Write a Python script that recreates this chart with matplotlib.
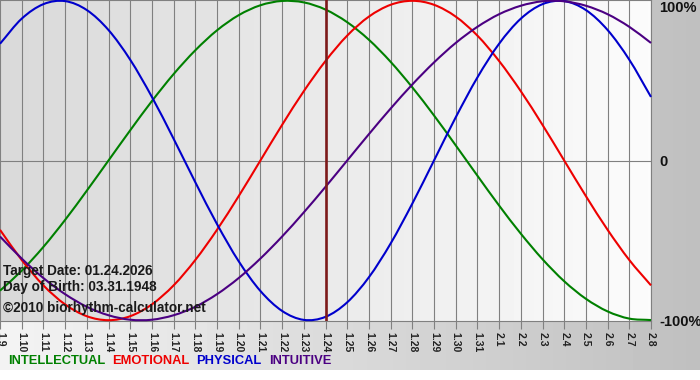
#!/usr/bin/env python3
"""Biorhythm chart, 01.24.2026 for a birth date of 03.31.1948."""
import numpy as np
import matplotlib

matplotlib.use("Agg")
import matplotlib.pyplot as plt
from matplotlib.path import Path
from matplotlib.patches import PathPatch

W, H = 700, 380

dates = ["1.9", "1.10", "1.11", "1.12", "1.13", "1.14", "1.15", "1.16", "1.17",
         "1.18", "1.19", "1.20", "1.21", "1.22", "1.23", "1.24", "1.25", "1.26",
         "1.27", "1.28", "1.29", "1.30", "1.31", "2.1", "2.2", "2.3", "2.4",
         "2.5", "2.6", "2.7", "2.8"]
target_idx = 15

# percent / 100, one value per day
physical = [0.731, 0.888, 0.979, 0.998, 0.942, 0.817, 0.631, 0.398, 0.136, -0.136,
            -0.398, -0.631, -0.817, -0.942, -0.998, -0.979, -0.888, -0.731, -0.520,
            -0.270, 0.0, 0.270, 0.520, 0.731, 0.888, 0.979, 0.998, 0.942, 0.817,
            0.631, 0.398]
emotional = [-0.434, -0.623, -0.782, -0.901, -0.975, -1.0, -0.975, -0.901, -0.782,
             -0.623, -0.434, -0.223, 0.0, 0.223, 0.434, 0.623, 0.782, 0.901, 0.975,
             1.0, 0.975, 0.901, 0.782, 0.623, 0.434, 0.223, 0.0, -0.223, -0.434,
             -0.623, -0.782]
intellectual = [-0.815, -0.690, -0.541, -0.372, -0.189, 0.0, 0.189, 0.372, 0.541,
                0.690, 0.815, 0.910, 0.972, 0.999, 0.990, 0.945, 0.866, 0.756, 0.618,
                0.458, 0.282, 0.095, -0.095, -0.282, -0.458, -0.618, -0.756, -0.866,
                -0.945, -0.990, -0.999]
intuitive = [-0.476, -0.614, -0.736, -0.837, -0.916, -0.969, -0.997, -0.997, -0.969,
             -0.916, -0.837, -0.736, -0.614, -0.476, -0.325, -0.165, 0.0, 0.165,
             0.325, 0.476, 0.614, 0.736, 0.837, 0.916, 0.969, 0.997, 0.997, 0.969,
             0.916, 0.837, 0.736]

series = [
    ("INTELLECTUAL", intellectual, "#008000"),
    ("EMOTIONAL", emotional, "#ee0000"),
    ("PHYSICAL", physical, "#0000cc"),
    ("INTUITIVE", intuitive, "#4b0082"),
]

FONT = "Liberation Sans"


def smooth_path(xs, ys):
    # catmull-rom through the daily points, drawn as cubic beziers
    pts = np.column_stack([xs, ys]).astype(float)
    ext = np.vstack([2 * pts[0] - pts[1], pts, 2 * pts[-1] - pts[-2]])
    verts = [pts[0]]
    codes = [Path.MOVETO]
    for i in range(1, len(ext) - 2):
        p0, p1, p2, p3 = ext[i - 1], ext[i], ext[i + 1], ext[i + 2]
        verts += [p1 + (p2 - p0) / 6, p2 - (p3 - p1) / 6, p2]
        codes += [Path.CURVE4] * 3
    return Path(verts, codes)


fig = plt.figure(figsize=(W / 100, H / 100), dpi=100)

# page background: light-to-gray horizontal gradient, white strip at the bottom
bg = fig.add_axes([0, 0, 1, 1], zorder=-2)
img = np.tile(np.linspace(0.955, 0.75, W), (H, 1))
img[370:, :] = 1.0
bg.imshow(img, cmap="gray", vmin=0, vmax=1, aspect="auto", extent=(0, W, H, 0))
bg.set_xlim(0, W)
bg.set_ylim(H, 0)
bg.axis("off")

PL, PR, PT, PB = 0, 651, 0, 321
ax = fig.add_axes([PL / W, 1 - PB / H, (PR - PL) / W, (PB - PT) / H])
n = len(dates)
x = np.arange(n)
ax.set_xlim(0, n - 1)
ax.set_ylim(-1.005, 1.005)

# plot background gradient
pgrad = np.tile(np.linspace(0.85, 0.985, 200), (10, 1))
ax.imshow(pgrad, cmap="gray", vmin=0, vmax=1, aspect="auto",
          extent=(0, n - 1, -1.005, 1.005), zorder=0)

for i in x:
    ax.axvline(i, color="#808080", lw=0.8, zorder=1)
ax.axhline(0, color="#808080", lw=0.8, zorder=1)

for name, vals, col in series:
    ax.add_patch(PathPatch(smooth_path(x, vals), fill=False, edgecolor=col,
                           lw=1.5, zorder=3, clip_on=False))

ax.axvline(target_idx, color="#7d1a1a", lw=1.9, zorder=4)

ax.spines["left"].set_visible(False)
for side in ["top", "bottom", "right"]:
    ax.spines[side].set_color("#808080")
    ax.spines[side].set_linewidth(0.8)

ax.set_yticks([])
ax.set_xticks(x)
ax.set_xticklabels(dates, rotation=270, fontsize=7.5, fontweight="bold",
                   family=FONT, color="#222222")
ax.tick_params(axis="x", length=6, width=0.8, color="#808080", pad=2)

# right hand scale
for txt, yp in [("100%", 8), ("0", 162), ("-100%", 322)]:
    fig.text(659 / W, 1 - yp / H, txt, fontsize=10.5, fontweight="bold",
             family=FONT, color="#111111", va="center", ha="left")

info = [("Target Date: 01.24.2026", 271), ("Day of Birth: 03.31.1948", 287),
        ("©2010 biorhythm-calculator.net", 308)]
for txt, yp in info:
    fig.text(3 / W, 1 - yp / H, txt, fontsize=9.8, fontweight="bold", family=FONT,
             color="#1a1a1a", va="center", ha="left")

# coloured legend row
xpos = 8
for name, vals, col in series:
    t = fig.text(xpos / W, 1 - 361 / H, name, fontsize=9.3, fontweight="bold",
                 family=FONT, color=col, va="center", ha="left")
    fig.canvas.draw()
    xpos = t.get_window_extent().x1 + 7

fig.savefig("out.png", dpi=100)
